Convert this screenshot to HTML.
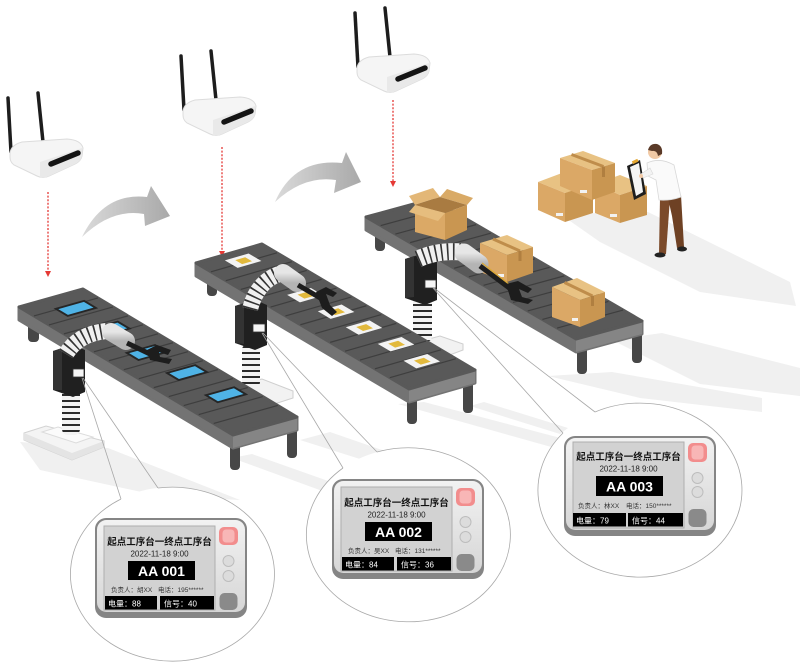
<!DOCTYPE html>
<html><head><meta charset="utf-8">
<style>
html,body{margin:0;padding:0;background:#fff;}
svg{display:block;}
text{font-family:"Liberation Sans","Noto Sans CJK SC",sans-serif;}
</style></head><body>
<svg width="800" height="662" viewBox="0 0 800 662" xmlns="http://www.w3.org/2000/svg">
<defs>
 <linearGradient id="arrG" x1="0" y1="0" x2="1" y2="0"><stop offset="0" stop-color="#dadada"/><stop offset="1" stop-color="#a9a9a9"/></linearGradient>
 <linearGradient id="bez" x1="0" y1="0" x2="0" y2="1"><stop offset="0" stop-color="#f2f2f2"/><stop offset="1" stop-color="#d6d6d6"/></linearGradient>
 <linearGradient id="cyl" x1="0" y1="0" x2="0" y2="1"><stop offset="0" stop-color="#e6e6e6"/><stop offset="1" stop-color="#b4b4b4"/></linearGradient>
 <pattern id="sp" width="20" height="6" patternUnits="userSpaceOnUse"><rect width="20" height="6" fill="#f3f3f3"/><rect y="4" width="20" height="2" fill="#2b2b2b"/></pattern>
 <g id="router">
  <line x1="8" y1="98" x2="11" y2="152" stroke="#1d1d1d" stroke-width="3.5" stroke-linecap="round"/>
  <line x1="38" y1="93" x2="43" y2="142" stroke="#1d1d1d" stroke-width="3.5" stroke-linecap="round"/>
  <path d="M10,153 Q11,145 22,142 L67,139 Q81,140 83,148 L82,156 Q81,161 75,164 L49,176 Q43,179 37,176 L14,165 Q10,162 10,157 Z" fill="#f5f5f5" stroke="#dcdcdc" stroke-width="1"/>
  <path d="M40,162 L82,148 L82,156 Q81,161 75,164 L49,176 Q43,179 40,177 Z" fill="#e9e9e9"/>
  <line x1="51" y1="164" x2="78" y2="153" stroke="#141414" stroke-width="5.5" stroke-linecap="round"/>
 </g>
</defs>

<rect width="800" height="662" fill="#fff"/>

<!-- floor shadows -->
<g fill="#f0f0f0">
 <polygon points="560,214 648,212 790,282 796,306 700,292 600,242"/>
 <polygon points="612,340 662,333 800,368 800,396 700,384"/>
 <polygon points="548,376 612,372 762,398 762,412 640,398"/>
 <polygon points="398,404 424,402 568,440 562,450"/>
 <polygon points="470,406 484,402 568,428 560,434"/>
 <polygon points="232,458 252,454 348,488 336,496"/>
 <polygon points="20,442 108,448 240,500 160,496 40,470"/>
 <polygon points="300,440 330,432 440,470 420,478"/>
</g>

<!-- red dotted links -->
<g stroke="#e53935" stroke-width="1.3" stroke-dasharray="2 1.6" fill="none">
 <line x1="48" y1="192" x2="48" y2="271"/>
 <line x1="222" y1="147" x2="222" y2="251"/>
 <line x1="393" y1="100" x2="393" y2="181"/>
</g>
<g fill="#e53935">
 <polygon points="45,271 51,271 48,277"/>
 <polygon points="219,251 225,251 222,257"/>
 <polygon points="390,181 396,181 393,187"/>
</g>

<!-- routers -->
<use href="#router"/>
<use href="#router" transform="translate(173,-42)"/>
<use href="#router" transform="translate(347,-85)"/>

<!-- curved arrows -->
<path d="M82,237 Q104,192 147,197 L151,186 L170,216 L145,226 L144,214 Q112,208 82,237 Z" fill="url(#arrG)"/>
<path d="M275,202 Q294,158 342,163 L346,152 L361,182 L334,193 L336,180 Q304,175 275,202 Z" fill="url(#arrG)"/>

<!-- platform 3 -->
<polygon points="425,340 440,336 463,344 463,350 447,356 425,347" fill="#f2f2f2" stroke="#cfcfcf" stroke-width="1"/>

<!-- ===== conveyor 3 ===== -->
<g>
 <rect x="375" y="228" width="10" height="23" rx="4" fill="#474747"/>
 <rect x="577" y="345" width="10" height="29" rx="4" fill="#474747"/>
 <rect x="632" y="330" width="10" height="33" rx="4" fill="#474747"/>
 <polygon points="366,217 576,339 642,321 642,334 576,352 366,230" fill="#737373" stroke="#737373" stroke-width="3" stroke-linejoin="round"/>
 <polygon points="576,339 642,321 642,334 576,352" fill="#858585"/>
 <polygon points="366,217 432,199 642,321 576,339" fill="#595959" stroke="#595959" stroke-width="3" stroke-linejoin="round"/>
 <g transform="matrix(66,-18,210,122,366,217)">
  <path d="M0,.07H1M0,.14H1M0,.21H1M0,.28H1M0,.35H1M0,.42H1M0,.49H1M0,.56H1M0,.63H1M0,.70H1M0,.77H1M0,.84H1M0,.91H1" stroke="#3e3e3e" stroke-width="1.2" vector-effect="non-scaling-stroke" fill="none"/>
 </g>
</g>
<!-- boxes on conveyor 3 -->
<g>
 <polygon points="409,196 433,188 440,197 415,205" fill="#e3b777"/>
 <polygon points="440,197 447,189 473,198 467,205" fill="#d9aa66"/>
 <polygon points="415,205 440,197 467,205 445,213" fill="#a97b41"/>
 <polygon points="415,205 445,213 445,240 415,232" fill="#dba966"/>
 <polygon points="445,213 467,205 467,230 445,240" fill="#c99651"/>
 <polygon points="415,205 445,213 438,221 409,212" fill="#e6bd7e"/>
 <polygon points="480,243 507,235 533,247 507,255" fill="#e8c283"/>
 <polygon points="480,243 507,255 507,282 480,272" fill="#dba866"/>
 <polygon points="507,255 533,247 533,273 507,282" fill="#c99651"/>
 <line x1="493" y1="239" x2="520" y2="251" stroke="#bf8d4b" stroke-width="3"/>
 <line x1="520" y1="251" x2="520" y2="261" stroke="#b07f40" stroke-width="3"/>
 <rect x="498" y="274" width="6" height="3" fill="#f2f2f2"/>
</g>
<!-- arm 3 -->
<g>
 <rect x="413" y="286" width="19" height="56" rx="6" fill="url(#sp)"/>
 <polygon points="405,259 425,253 437,258 437,300 425,305 405,298" fill="#202020"/>
 <polygon points="405,259 414,256 414,297 405,298" fill="#333"/>
 <rect x="425" y="280" width="11" height="8" fill="#f5f5f5" stroke="#333" stroke-width=".8"/>
 <path d="M418,259 Q438,250 462,252" stroke="#f0f0f0" stroke-width="17" fill="none"/>
 <path d="M418,259 Q438,250 462,252" stroke="#333" stroke-width="17" fill="none" stroke-dasharray="1.6 4.4"/>
 <line x1="464" y1="253" x2="479" y2="264" stroke="url(#cyl)" stroke-width="19" stroke-linecap="round"/>
 <line x1="480" y1="266" x2="512" y2="290" stroke="#1d1d1d" stroke-width="5"/>
 <line x1="482" y1="263" x2="510" y2="285" stroke="#d9a836" stroke-width="1.3"/>
 <path d="M506,284 L518,281 L532,289 L528,293 L519,289 L522,297 L533,300 L528,304 L511,300 Z" fill="#1d1d1d"/>
 <polygon points="552,287 577,278 605,292 580,300" fill="#e8c283"/>
 <polygon points="552,287 580,300 580,327 552,317" fill="#dba866"/>
 <polygon points="580,300 605,292 605,317 580,327" fill="#c99651"/>
 <line x1="564.5" y1="282.5" x2="592.5" y2="296" stroke="#bf8d4b" stroke-width="3"/>
 <line x1="592.5" y1="296" x2="592.5" y2="306" stroke="#b07f40" stroke-width="3"/>
 <rect x="572" y="318" width="6" height="3" fill="#f2f2f2"/>
</g>

<!-- stacked boxes & person -->
<g>
 <polygon points="538,182 562,173 593,186 565,193" fill="#e8c283"/>
 <polygon points="538,182 565,193 565,222 538,210" fill="#dba866"/>
 <polygon points="565,193 593,184 593,213 565,222" fill="#c99651"/>
 <rect x="556" y="213" width="7" height="3" fill="#f2f2f2"/>
 <polygon points="595,184 620,175 647,186 620,195" fill="#e8c283"/>
 <polygon points="595,184 620,195 620,223 595,213" fill="#dba866"/>
 <polygon points="620,195 647,186 647,215 620,223" fill="#c99651"/>
 <rect x="610" y="214" width="7" height="3" fill="#f2f2f2"/>
 <polygon points="560,158 583,151 615,163 592,170" fill="#e8c283"/>
 <polygon points="560,158 592,170 592,200 560,186" fill="#dba866"/>
 <polygon points="592,170 615,163 615,192 592,200" fill="#c99651"/>
 <line x1="571.5" y1="154.5" x2="603.5" y2="166.5" stroke="#bf8d4b" stroke-width="3"/>
 <line x1="603.5" y1="166.5" x2="603.5" y2="177" stroke="#b07f40" stroke-width="3"/>
 <rect x="580" y="190" width="7" height="3" fill="#f2f2f2"/>
 <polygon points="660,198 670,198 666,254 659,254" fill="#7b4a2a"/>
 <polygon points="668,198 681,195 684,247 677,248 672,216" fill="#6e4124"/>
 <ellipse cx="660" cy="255" rx="5.5" ry="2.5" fill="#222"/>
 <ellipse cx="682" cy="249" rx="5" ry="2.5" fill="#222"/>
 <path d="M647,163 Q660,157 674,165 L681,197 Q670,201 659,200 L656,180 L648,176 Z" fill="#fafafa" stroke="#d8d8d8" stroke-width=".8"/>
 <polygon points="627,166 640,160 646,194 634,200" fill="#1e1e1e"/>
 <polygon points="630,167 639,163 643,192 636,196" fill="#f4f4f4"/>
 <rect x="632" y="160" width="6" height="3" fill="#e3a52e" transform="rotate(-25 635 161)"/>
 <path d="M650,168 L641,174 L643,178 L653,174 Z" fill="#f3f3f3" stroke="#d8d8d8" stroke-width=".6"/>
 <circle cx="641" cy="176" r="2" fill="#f1c9a5"/>
 <circle cx="655" cy="152" r="7" fill="#f1c9a5"/>
 <path d="M648,150 Q650,143 657,144 Q663,146 662,154 L658,156 Q657,150 652,151 Z" fill="#5a3a28"/>
</g>

<!-- platform 2 -->
<polygon points="232,386 262,379 293,391 293,398 262,408 232,395" fill="#f2f2f2" stroke="#cfcfcf" stroke-width="1"/>

<!-- ===== conveyor 2 ===== -->
<g>
 <rect x="207" y="273" width="10" height="23" rx="4" fill="#474747"/>
 <rect x="407" y="395" width="10" height="29" rx="4" fill="#474747"/>
 <rect x="463" y="380" width="10" height="33" rx="4" fill="#474747"/>
 <polygon points="196,263 409,389 475,370 475,383 409,402 196,276" fill="#737373" stroke="#737373" stroke-width="3" stroke-linejoin="round"/>
 <polygon points="409,389 475,370 475,383 409,402" fill="#858585"/>
 <polygon points="196,263 262,244 475,370 409,389" fill="#595959" stroke="#595959" stroke-width="3" stroke-linejoin="round"/>
 <g transform="matrix(66,-19,213,126,196,263)">
  <path d="M0,.07H1M0,.14H1M0,.21H1M0,.28H1M0,.35H1M0,.42H1M0,.49H1M0,.56H1M0,.63H1M0,.70H1M0,.77H1M0,.84H1M0,.91H1" stroke="#3e3e3e" stroke-width="1.2" vector-effect="non-scaling-stroke" fill="none"/>
  <g fill="#f3f3f3">
   <rect x=".34" y=".03" width=".36" height=".06"/>
   <rect x=".38" y=".31" width=".36" height=".06"/>
   <rect x=".41" y=".445" width=".36" height=".06"/>
   <rect x=".42" y=".573" width=".36" height=".06"/>
   <rect x=".46" y=".711" width=".36" height=".06"/>
   <rect x=".43" y=".841" width=".36" height=".06"/>
  </g>
  <g fill="#e2b93c">
   <rect x=".45" y=".045" width=".15" height=".032"/>
   <rect x=".49" y=".325" width=".15" height=".032"/>
   <rect x=".52" y=".46" width=".15" height=".032"/>
   <rect x=".53" y=".588" width=".15" height=".032"/>
   <rect x=".57" y=".726" width=".15" height=".032"/>
   <rect x=".54" y=".856" width=".15" height=".032"/>
  </g>
 </g>
</g>
<!-- arm 2 -->
<g>
 <rect x="242" y="344" width="18" height="44" rx="6" fill="url(#sp)"/>
 <polygon points="235,306 255,300 267,305 267,345 255,350 235,343" fill="#202020"/>
 <polygon points="235,306 244,303 244,344 235,343" fill="#333"/>
 <rect x="253" y="324" width="12" height="8" fill="#f5f5f5" stroke="#333" stroke-width=".8"/>
 <path d="M250,309 Q257,282 279,274" stroke="#f0f0f0" stroke-width="16" fill="none"/>
 <path d="M250,309 Q257,282 279,274" stroke="#333" stroke-width="16" fill="none" stroke-dasharray="1.6 4.4"/>
 <line x1="283" y1="273" x2="297" y2="283" stroke="url(#cyl)" stroke-width="18" stroke-linecap="round"/>
 <line x1="298" y1="285" x2="322" y2="299" stroke="#1d1d1d" stroke-width="5"/>
 <path d="M316,292 L326,287 L337,293 L333,297 L326,294 L330,305 L337,312 L332,316 L322,308 Z" fill="#1d1d1d"/>
</g>

<!-- platform 1 -->
<g>
 <polygon points="24,433 46,426 104,441 104,447 72,460 24,440" fill="#f4f4f4" stroke="#d3d3d3" stroke-width="1"/>
 <polygon points="24,433 72,453 104,441 104,447 72,460 24,440" fill="#e4e4e4"/>
 <polygon points="42,432 58,427 93,437 76,443" fill="#fbfbfb" stroke="#dcdcdc" stroke-width="1"/>
</g>

<!-- ===== conveyor 1 ===== -->
<g>
 <rect x="28" y="318" width="11" height="24" rx="4" fill="#474747"/>
 <rect x="230" y="440" width="10" height="30" rx="4" fill="#474747"/>
 <rect x="287" y="425" width="10" height="33" rx="4" fill="#474747"/>
 <polygon points="19,307 233,435 297,417 297,430 233,448 19,320" fill="#737373" stroke="#737373" stroke-width="3" stroke-linejoin="round"/>
 <polygon points="233,435 297,417 297,430 233,448" fill="#858585"/>
 <polygon points="19,307 83,289 297,417 233,435" fill="#595959" stroke="#595959" stroke-width="3" stroke-linejoin="round"/>
 <g transform="matrix(64,-18,214,128,19,307)">
  <path d="M0,.07H1M0,.14H1M0,.21H1M0,.28H1M0,.35H1M0,.42H1M0,.49H1M0,.56H1M0,.63H1M0,.70H1M0,.77H1M0,.84H1M0,.91H1" stroke="#3e3e3e" stroke-width="1.2" vector-effect="non-scaling-stroke" fill="none"/>
  <g fill="#262626">
   <rect x=".34" y=".06" width=".48" height=".065"/>
   <rect x=".33" y=".22" width=".48" height=".065"/>
   <rect x=".31" y=".40" width=".48" height=".065"/>
   <rect x=".38" y=".567" width=".48" height=".065"/>
   <rect x=".40" y=".743" width=".48" height=".065"/>
  </g>
  <g fill="#4fb3e6">
   <rect x=".38" y=".07" width=".40" height=".045"/>
   <rect x=".37" y=".23" width=".40" height=".045"/>
   <rect x=".35" y=".41" width=".40" height=".045"/>
   <rect x=".42" y=".577" width=".40" height=".045"/>
   <rect x=".44" y=".753" width=".40" height=".045"/>
  </g>
 </g>
</g>
<!-- arm 1 -->
<g>
 <rect x="62" y="378" width="18" height="57" rx="6" fill="url(#sp)"/>
 <polygon points="53,351 73,345 85,350 85,392 73,397 53,390" fill="#202020"/>
 <polygon points="53,351 62,348 62,390 53,390" fill="#333"/>
 <rect x="73" y="369" width="11" height="8" fill="#f5f5f5" stroke="#333" stroke-width=".8"/>
 <path d="M66,354 Q78,334 106,331" stroke="#f0f0f0" stroke-width="16" fill="none"/>
 <path d="M66,354 Q78,334 106,331" stroke="#333" stroke-width="16" fill="none" stroke-dasharray="1.6 4.4"/>
 <line x1="111" y1="332" x2="126" y2="341" stroke="url(#cyl)" stroke-width="18" stroke-linecap="round"/>
 <line x1="127" y1="343" x2="152" y2="355" stroke="#1d1d1d" stroke-width="5"/>
 <path d="M147,350 L157,345 L171,350 L168,355 L159,352 L160,357 L172,359 L169,364 L150,360 Z" fill="#1d1d1d"/>
</g>

<!-- ===== magnifier ellipses ===== -->
<g>
 <ellipse cx="172" cy="574" rx="102" ry="87" fill="#fff"/>
 <ellipse cx="408" cy="535" rx="102" ry="87" fill="#fff"/>
 <ellipse cx="640" cy="490" rx="102" ry="87" fill="#fff"/>
</g>
<g stroke="#a8a8a8" stroke-width=".8" fill="none">
 <path d="M158,488 A102,87 0 1,1 121,499"/>
 <line x1="82" y1="378" x2="121" y2="499"/>
 <line x1="83" y1="378" x2="158" y2="488"/>
 <path d="M377,452 A102,87 0 1,1 343,468"/>
 <line x1="262" y1="333" x2="343" y2="468"/>
 <line x1="263" y1="333" x2="377" y2="452"/>
 <path d="M595,412 A102,87 0 1,1 563,433"/>
 <line x1="433" y1="288" x2="563" y2="433"/>
 <line x1="434" y1="288" x2="595" y2="412"/>
</g>

<!-- ===== devices ===== -->
<g transform="translate(95,518)">
 <rect x="0" y="0" width="152" height="100" rx="11" fill="#858585"/>
 <rect x="2" y="2" width="148" height="92" rx="9.5" fill="url(#bez)"/>
 <rect x="9" y="8" width="111" height="84" fill="#d2d2d2" stroke="#aeaeae" stroke-width="1"/>
 <text x="64.5" y="27" text-anchor="middle" font-size="9.5" font-weight="bold" fill="#111">起点工序台一终点工序台</text>
 <text x="64.5" y="38.5" text-anchor="middle" font-size="8" fill="#222">2022-11-18 9:00</text>
 <rect x="33" y="43" width="67" height="19" fill="#000"/>
 <text x="66.5" y="58" text-anchor="middle" font-size="14" font-weight="bold" fill="#fff">AA 001</text>
 <text x="16" y="74" font-size="6.5" fill="#333">负责人：胡XX</text>
 <text x="63" y="74" font-size="6.5" fill="#333">电话：195******</text>
 <rect x="10" y="78" width="52" height="13.5" fill="#000"/>
 <rect x="65" y="78" width="54" height="13.5" fill="#000"/>
 <text x="13" y="88.5" font-size="8" fill="#fff">电量：88</text>
 <text x="69" y="88.5" font-size="8" fill="#fff">信号：40</text>
 <rect x="124" y="9" width="19" height="18" rx="5" fill="#f28d8d"/>
 <rect x="127.5" y="11.5" width="12" height="13" rx="3.5" fill="#f8b6b6"/>
 <circle cx="133.5" cy="43" r="5.5" fill="#dcdcdc" stroke="#bdbdbd"/>
 <circle cx="133.5" cy="58" r="5.5" fill="#dcdcdc" stroke="#bdbdbd"/>
 <rect x="124.5" y="75" width="18" height="17" rx="5" fill="#8a8a8a"/>
</g>
<g transform="translate(332,479)">
 <rect x="0" y="0" width="152" height="100" rx="11" fill="#858585"/>
 <rect x="2" y="2" width="148" height="92" rx="9.5" fill="url(#bez)"/>
 <rect x="9" y="8" width="111" height="84" fill="#d2d2d2" stroke="#aeaeae" stroke-width="1"/>
 <text x="64.5" y="27" text-anchor="middle" font-size="9.5" font-weight="bold" fill="#111">起点工序台一终点工序台</text>
 <text x="64.5" y="38.5" text-anchor="middle" font-size="8" fill="#222">2022-11-18 9:00</text>
 <rect x="33" y="43" width="67" height="19" fill="#000"/>
 <text x="66.5" y="58" text-anchor="middle" font-size="14" font-weight="bold" fill="#fff">AA 002</text>
 <text x="16" y="74" font-size="6.5" fill="#333">负责人：吴XX</text>
 <text x="63" y="74" font-size="6.5" fill="#333">电话：131******</text>
 <rect x="10" y="78" width="52" height="13.5" fill="#000"/>
 <rect x="65" y="78" width="54" height="13.5" fill="#000"/>
 <text x="13" y="88.5" font-size="8" fill="#fff">电量：84</text>
 <text x="69" y="88.5" font-size="8" fill="#fff">信号：36</text>
 <rect x="124" y="9" width="19" height="18" rx="5" fill="#f28d8d"/>
 <rect x="127.5" y="11.5" width="12" height="13" rx="3.5" fill="#f8b6b6"/>
 <circle cx="133.5" cy="43" r="5.5" fill="#dcdcdc" stroke="#bdbdbd"/>
 <circle cx="133.5" cy="58" r="5.5" fill="#dcdcdc" stroke="#bdbdbd"/>
 <rect x="124.5" y="75" width="18" height="17" rx="5" fill="#8a8a8a"/>
</g>
<g transform="translate(564,436)">
 <rect x="0" y="0" width="152" height="100" rx="11" fill="#858585"/>
 <rect x="2" y="2" width="148" height="92" rx="9.5" fill="url(#bez)"/>
 <rect x="9" y="6" width="111" height="86" fill="#d2d2d2" stroke="#aeaeae" stroke-width="1"/>
 <text x="64.5" y="24" text-anchor="middle" font-size="9.5" font-weight="bold" fill="#111">起点工序台一终点工序台</text>
 <text x="64.5" y="35.5" text-anchor="middle" font-size="8" fill="#222">2022-11-18 9:00</text>
 <rect x="32" y="40" width="67" height="20" fill="#000"/>
 <text x="65.5" y="55.5" text-anchor="middle" font-size="14" font-weight="bold" fill="#fff">AA 003</text>
 <text x="14" y="72" font-size="6.5" fill="#333">负责人：林XX</text>
 <text x="62" y="72" font-size="6.5" fill="#333">电话：150******</text>
 <rect x="9" y="77" width="53" height="13.5" fill="#000"/>
 <rect x="64" y="77" width="55" height="13.5" fill="#000"/>
 <text x="12" y="87.5" font-size="8" fill="#fff">电量：79</text>
 <text x="68" y="87.5" font-size="8" fill="#fff">信号：44</text>
 <rect x="124" y="7" width="19" height="19" rx="5" fill="#f28d8d"/>
 <rect x="127.5" y="9.5" width="12" height="14" rx="3.5" fill="#f8b6b6"/>
 <circle cx="133.5" cy="42" r="5.5" fill="#dcdcdc" stroke="#bdbdbd"/>
 <circle cx="133.5" cy="56" r="5.5" fill="#dcdcdc" stroke="#bdbdbd"/>
 <rect x="124.5" y="73" width="18" height="18" rx="5" fill="#8a8a8a"/>
</g>
</svg>
</body></html>
